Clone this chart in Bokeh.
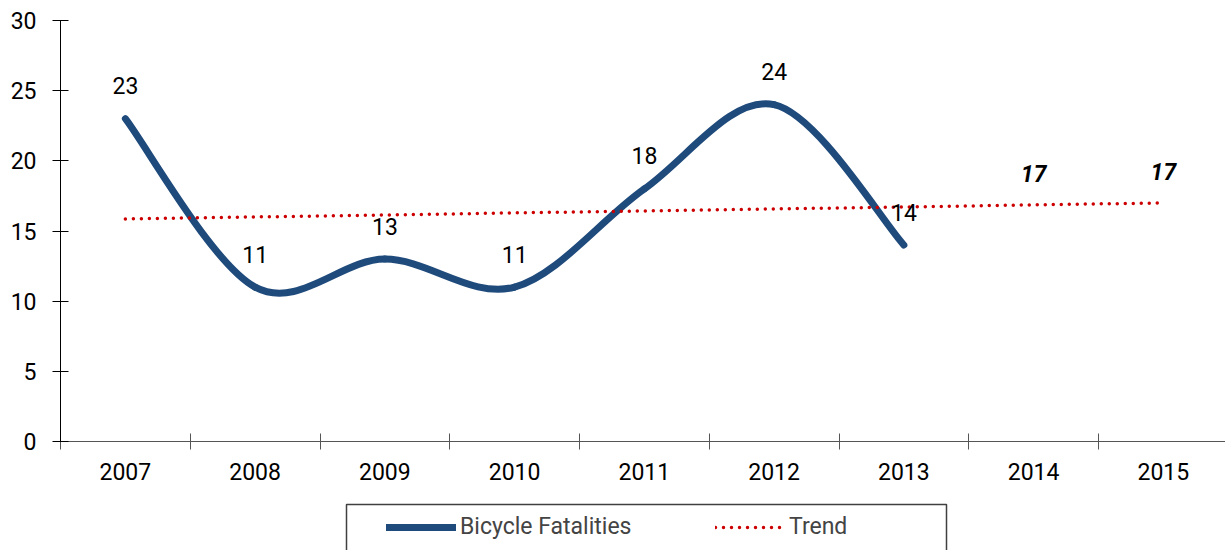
from bokeh.plotting import figure
from bokeh.models import (Range1d, FixedTicker, Legend, LegendItem, BoxAnnotation,
                          ColumnDataSource, LinearAxis)
from bokeh.embed import file_html
from bokeh.resources import INLINE
from bokeh.core.properties import value

# ---------------- data ----------------
years = ["2007", "2008", "2009", "2010", "2011", "2012", "2013", "2014", "2015"]
fatalities = [23, 11, 13, 11, 18, 24, 14]            # 2007-2013
trend = [15.86, 16.0, 16.14, 16.29, 16.43, 16.57, 16.71, 16.86, 17.0]  # 2007-2015
projection_labels = ["17", "17"]                      # 2014, 2015
y_ticks = [0, 5, 10, 15, 20, 25, 30]

FONT = "Roboto"
FS = "23px"
BLUE = "#1F4A7C"
RED = "#CC0000"

# ---------------- layout (pixels) ----------------
W, H = 1225, 550
AX_LEFT = 60          # pixel column of the value axis
AX_TOP = 20           # pixel row of value 30
AX_BOTTOM = 441       # pixel row of value 0
STEP = 129.75         # pixels per category
PPU = (AX_BOTTOM - AX_TOP) / 30.0

x0 = -0.5 - AX_LEFT / STEP
x1 = -0.5 + (W - AX_LEFT) / STEP
y1 = 30 + AX_TOP / PPU
y0 = -(H - AX_BOTTOM) / PPU

p = figure(width=W, height=H, output_backend="svg", toolbar_location=None,
           x_range=Range1d(x0, x1), y_range=Range1d(y0, y1),
           min_border=0, x_axis_type=None, y_axis_type=None)
p.outline_line_color = None
p.xgrid.visible = False
p.ygrid.visible = False
p.background_fill_color = "white"
p.border_fill_color = "white"

# ---- axes ----
xi = list(range(len(years)))
xaxis = LinearAxis(ticker=FixedTicker(ticks=xi, minor_ticks=[i - 0.5 for i in range(len(years) + 1)]),
                   major_label_overrides={i: y for i, y in enumerate(years)},
                   fixed_location=0, bounds=(-0.5, x1))
xaxis.axis_line_color = "#555555"
xaxis.major_tick_line_color = None
xaxis.major_tick_in = 0
xaxis.major_tick_out = 8
xaxis.minor_tick_line_color = "#555555"
xaxis.minor_tick_in = 8
xaxis.minor_tick_out = 8
xaxis.major_label_standoff = 13
xaxis.major_label_text_font = FONT
xaxis.major_label_text_font_size = FS
xaxis.major_label_text_color = "black"
p.add_layout(xaxis, "below")

yaxis = LinearAxis(ticker=FixedTicker(ticks=y_ticks, minor_ticks=[]),
                   fixed_location=-0.5, bounds=(0, 30))
yaxis.axis_line_color = "black"
yaxis.major_tick_line_color = "black"
yaxis.major_tick_in = 8
yaxis.major_tick_out = 8
yaxis.minor_tick_line_color = None
yaxis.major_label_standoff = 16
yaxis.major_label_text_font = FONT
yaxis.major_label_text_font_size = FS
yaxis.major_label_text_color = "black"
p.add_layout(yaxis, "left")

# ---- smoothed fatalities line (cubic Bezier segments through the points) ----
px = list(range(len(fatalities)))
py = fatalities
n = len(px)
seg = dict(x0=[], y0=[], x1=[], y1=[], cx0=[], cy0=[], cx1=[], cy1=[])
for i in range(n - 1):
    a = max(i - 1, 0)
    d = min(i + 2, n - 1)
    seg["x0"].append(px[i]); seg["y0"].append(py[i])
    seg["x1"].append(px[i + 1]); seg["y1"].append(py[i + 1])
    seg["cx0"].append(px[i] + (px[i + 1] - px[a]) / 6)
    seg["cy0"].append(py[i] + (py[i + 1] - py[a]) / 6)
    seg["cx1"].append(px[i + 1] - (px[d] - px[i]) / 6)
    seg["cy1"].append(py[i + 1] - (py[d] - py[i]) / 6)
bez = p.bezier(x0="x0", y0="y0", x1="x1", y1="y1", cx0="cx0", cy0="cy0", cx1="cx1", cy1="cy1",
               source=ColumnDataSource(seg), line_color=BLUE, line_width=7, line_cap="round")

# ---- trend ----
tr = p.line(xi, trend, line_color=RED, line_width=3.5, line_dash="0 8", line_cap="round")

# ---- data labels ----
p.text(x=px, y=py, text=[str(v) for v in fatalities], text_align="center",
       text_baseline="middle", y_offset=-33, text_font=value(FONT), text_font_size=FS,
       text_color="black")
p.text(x=xi[7:], y=trend[7:], text=projection_labels, text_align="center",
       text_baseline="middle", y_offset=-31, text_font=value(FONT), text_font_size=FS,
       text_font_style="bold italic", text_color="black")

# ---- legend box + legend ----
box = BoxAnnotation(left=-0.5 + (346 - AX_LEFT) / STEP, right=-0.5 + (946 - AX_LEFT) / STEP,
                    top=-(504 - AX_BOTTOM) / PPU, bottom=y0 - 1,
                    fill_alpha=0, line_color="#404040", line_alpha=1.0, line_width=1.5)
p.add_layout(box)

legend = Legend(items=[LegendItem(label="Bicycle Fatalities", renderers=[bez]),
                       LegendItem(label="Trend", renderers=[tr])],
                orientation="horizontal", location=(386, 10),
                padding=0, margin=0, spacing=0, glyph_width=70, glyph_height=26,
                label_standoff=4, label_width=255, label_height=26,
                label_text_font=FONT, label_text_font_size=FS,
                border_line_color=None, background_fill_alpha=0)
p.add_layout(legend)

open("out.html", "w").write(file_html(p, INLINE))
